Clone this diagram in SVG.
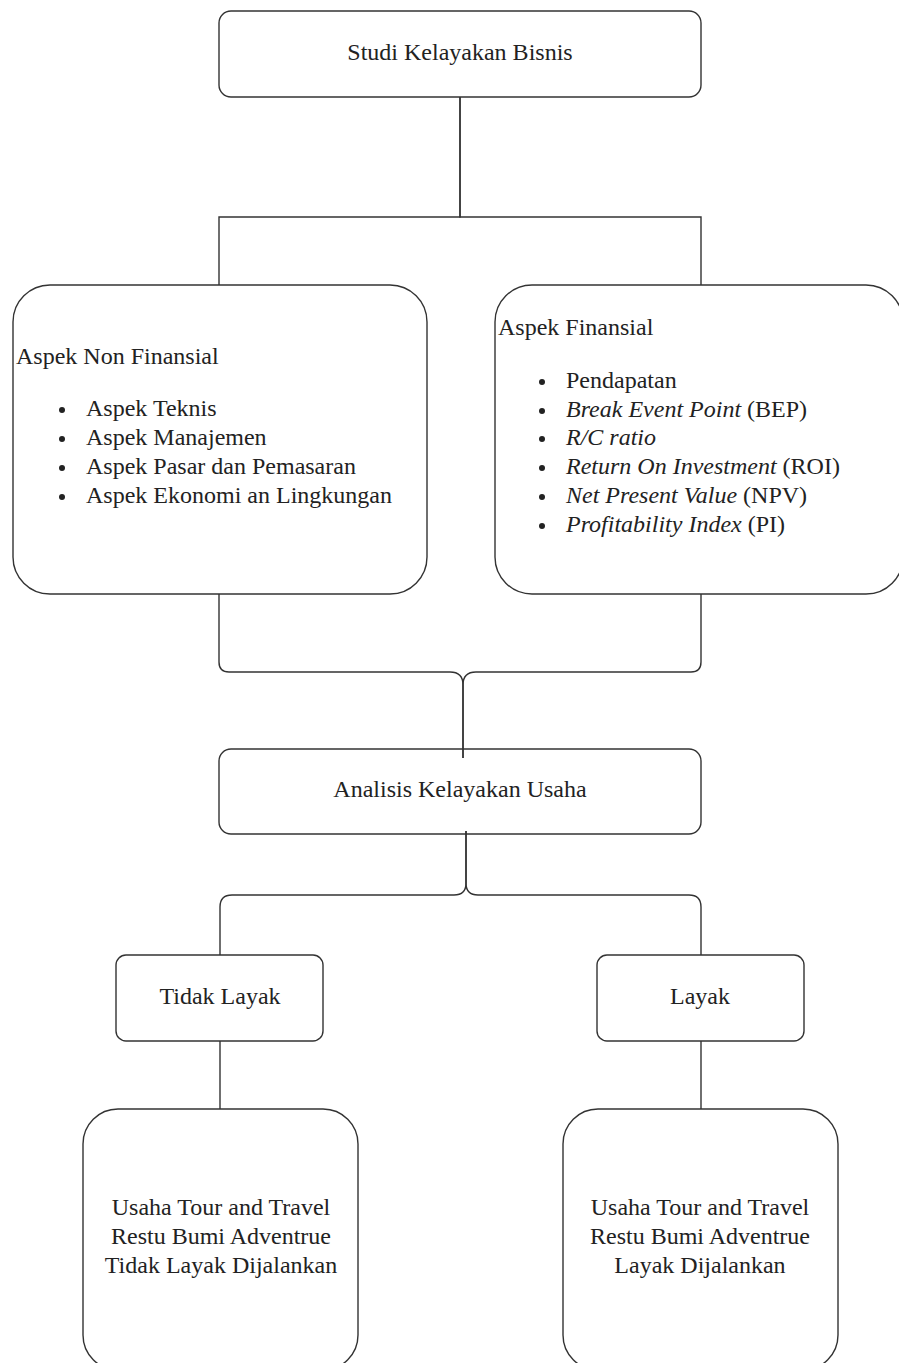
<svg xmlns="http://www.w3.org/2000/svg" width="899" height="1363" viewBox="0 0 899 1363">
<style>
.box{fill:#fff;stroke:#333;stroke-width:1.4}
.t{font-family:"Liberation Serif","Times New Roman",serif;font-size:24px;fill:#222}
.c{text-anchor:middle}
.i{font-style:italic}
.b{fill:#222}
.edge{fill:none;stroke:#333;stroke-width:1.4}
</style>
<rect width="899" height="1363" fill="#fff"/>
<g id="node-studi">
<rect class="box" x="219" y="11" width="482" height="86" rx="12"/>
<text class="t c" x="460" y="60">Studi Kelayakan Bisnis</text>
</g>
<g id="node-nonfinansial">
<rect class="box" x="13" y="285" width="414" height="309" rx="37"/>
<text class="t" x="16" y="364">Aspek Non Finansial</text>
<circle class="b" cx="62" cy="410" r="3"/><text class="t" x="86" y="416">Aspek Teknis</text>
<circle class="b" cx="62" cy="439" r="3"/><text class="t" x="86" y="445">Aspek Manajemen</text>
<circle class="b" cx="62" cy="468" r="3"/><text class="t" x="86" y="474">Aspek Pasar dan Pemasaran</text>
<circle class="b" cx="62" cy="497" r="3"/><text class="t" x="86" y="503">Aspek Ekonomi an Lingkungan</text>
</g>
<g id="node-finansial">
<rect class="box" x="495" y="285" width="408" height="309" rx="37"/>
<text class="t" x="498" y="335">Aspek Finansial</text>
<circle class="b" cx="542" cy="382" r="3"/><text class="t" x="566" y="388">Pendapatan</text>
<circle class="b" cx="542" cy="411" r="3"/><text class="t" x="566" y="417"><tspan class="i">Break Event Point</tspan> (BEP)</text>
<circle class="b" cx="542" cy="439" r="3"/><text class="t i" x="566" y="445">R/C ratio</text>
<circle class="b" cx="542" cy="468" r="3"/><text class="t" x="566" y="474"><tspan class="i">Return On Investment</tspan> (ROI)</text>
<circle class="b" cx="542" cy="497" r="3"/><text class="t" x="566" y="503"><tspan class="i">Net Present Value</tspan> (NPV)</text>
<circle class="b" cx="542" cy="526" r="3"/><text class="t" x="566" y="532"><tspan class="i">Profitability Index</tspan> (PI)</text>
</g>
<g id="node-analisis">
<rect class="box" x="219" y="749" width="482" height="85" rx="12"/>
<text class="t c" x="460" y="797">Analisis Kelayakan Usaha</text>
</g>
<g id="node-tidaklayak">
<rect class="box" x="116" y="955" width="207" height="86" rx="10"/>
<text class="t c" x="220" y="1004">Tidak Layak</text>
</g>
<g id="node-layak">
<rect class="box" x="597" y="955" width="207" height="86" rx="10"/>
<text class="t c" x="700" y="1004">Layak</text>
</g>
<g id="node-hasil-tidak">
<rect class="box" x="83" y="1109" width="275" height="261" rx="35"/>
<text class="t c" x="221" y="1215">Usaha Tour and Travel</text>
<text class="t c" x="221" y="1244">Restu Bumi Adventrue</text>
<text class="t c" x="221" y="1273">Tidak Layak Dijalankan</text>
</g>
<g id="node-hasil-layak">
<rect class="box" x="563" y="1109" width="275" height="261" rx="35"/>
<text class="t c" x="700" y="1215">Usaha Tour and Travel</text>
<text class="t c" x="700" y="1244">Restu Bumi Adventrue</text>
<text class="t c" x="700" y="1273">Layak Dijalankan</text>
</g>
<g id="connectors">
<path class="edge" d="M460 97 V217 H219 V285"/>
<path class="edge" d="M460 97 V217 H701 V285"/>
<path class="edge" d="M219 594 V662 Q219 672 229 672 H450 Q463 672 463 685 V758"/>
<path class="edge" d="M701 594 V662 Q701 672 691 672 H476 Q463 672 463 685 V758"/>
<path class="edge" d="M466 831 V883 Q466 895 454 895 H232 Q220 895 220 907 V955"/>
<path class="edge" d="M466 831 V883 Q466 895 478 895 H689 Q701 895 701 907 V955"/>
<path class="edge" d="M220 1041 V1109"/>
<path class="edge" d="M701 1041 V1109"/>
</g>
</svg>
